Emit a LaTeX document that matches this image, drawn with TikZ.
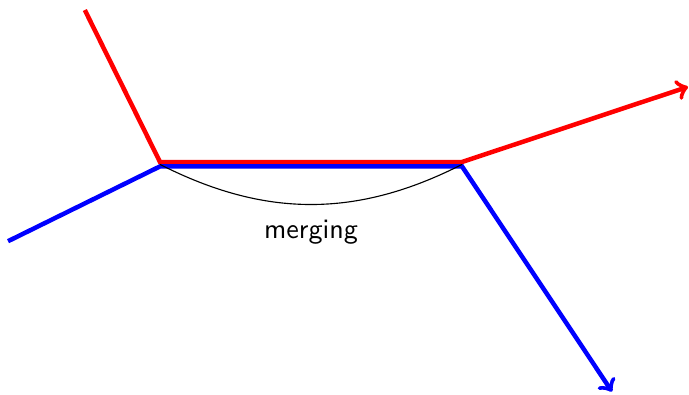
\documentclass[tikz,border=0pt]{standalone}
\usetikzlibrary{positioning}

\begin{document}
\begin{tikzpicture}[font=\sffamily]
    \useasboundingbox (0,0) rectangle (8.6125,4.925);
    % Red path
    \coordinate (rin) at (1.06,4.8);
    \coordinate (rleft) at (2.0,2.9);
    \coordinate (rright) at (5.775,2.9);
    \coordinate (rout) at (8.6,3.84);
    % Blue path
    \coordinate (bin) at (0.1,1.91);
    \coordinate (bleft) at (2.0,2.845);
    \coordinate (bright) at (5.775,2.845);
    \coordinate (bout) at (7.65,0.03);

    \draw[ultra thick, red, ->] (rin) -- (rleft) -- (rright) -- (rout);
    \draw[ultra thick, blue, ->] (bin) -- (bleft) -- (bright) -- (bout);

    % Merge arc
    \coordinate (mleft) at (2.0,2.87);
    \coordinate (mright) at (5.775,2.87);
    \draw (mleft) to[bend right=27] node[below=0.07cm] (merge) {merging} (mright);
\end{tikzpicture}
\end{document}
